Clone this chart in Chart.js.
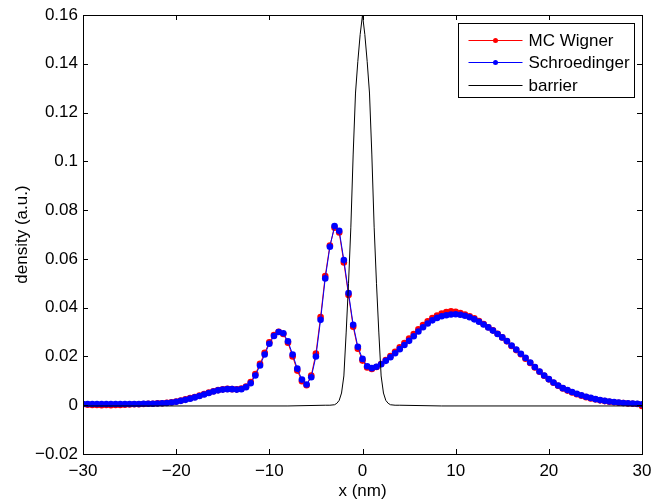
<!DOCTYPE html>
<html>
<head>
<meta charset="utf-8">
<title>density</title>
<script src="https://cdn.jsdelivr.net/npm/chart.js@4.4.0/dist/chart.umd.min.js"></script>
<style>
  html, body { margin: 0; padding: 0; background: #ffffff; }
  #grafico { display: block; }
</style>
</head>
<body>
<canvas id="grafico" width="653" height="502"></canvas>
<script>
// --- Dados (grade x de -30 a 30 nm, passo 0.5) ---
const xStart = -30;
const xStep = 0.5;

const wignerValues = [
  0.0004, 0.0002, 0.0001, 0.0001, 0.0000, 0.0001, 0.0000, 0.0001, 0.0001, 0.0002,
  0.0003, 0.0004, 0.0004, 0.0005, 0.0006, 0.0006, 0.0008, 0.0008, 0.0010, 0.0012,
  0.0015, 0.0019, 0.0024, 0.0029, 0.0034, 0.0040, 0.0046, 0.0052, 0.0057, 0.0062,
  0.0065, 0.0067, 0.0066, 0.0065, 0.0068, 0.0077, 0.0095, 0.0128, 0.0170, 0.0215,
  0.0258, 0.0288, 0.0301, 0.0292, 0.0256, 0.0200, 0.0142, 0.0098, 0.0082, 0.0122,
  0.0212, 0.0362, 0.0530, 0.0655, 0.0728, 0.0708, 0.0585, 0.0452, 0.0322, 0.0232,
  0.0183, 0.0155, 0.0149, 0.0157, 0.0169, 0.0185, 0.0202, 0.0219, 0.0237, 0.0255,
  0.0273, 0.0292, 0.0311, 0.0329, 0.0344, 0.0357, 0.0368, 0.0376, 0.0382, 0.0385,
  0.0383, 0.0378, 0.0372, 0.0365, 0.0356, 0.0345, 0.0333, 0.0320, 0.0307, 0.0293,
  0.0278, 0.0262, 0.0243, 0.0226, 0.0209, 0.0191, 0.0173, 0.0155, 0.0137, 0.0121,
  0.0106, 0.0092, 0.0080, 0.0069, 0.0060, 0.0052, 0.0045, 0.0039, 0.0033, 0.0028,
  0.0024, 0.0020, 0.0017, 0.0014, 0.0012, 0.0010, 0.0009, 0.0007, 0.0006, 0.0005,
  -0.0003
];

const schroedingerValues = [
  0.0005, 0.0005, 0.0005, 0.0005, 0.0005, 0.0005, 0.0005, 0.0005, 0.0005, 0.0005,
  0.0005, 0.0005, 0.0005, 0.0006, 0.0006, 0.0006, 0.0007, 0.0008, 0.0009, 0.0011,
  0.0014, 0.0018, 0.0022, 0.0027, 0.0032, 0.0038, 0.0044, 0.0050, 0.0056, 0.0061,
  0.0064, 0.0066, 0.0066, 0.0064, 0.0066, 0.0074, 0.0090, 0.0122, 0.0163, 0.0208,
  0.0252, 0.0284, 0.0300, 0.0295, 0.0262, 0.0208, 0.0150, 0.0105, 0.0085, 0.0115,
  0.0200, 0.0350, 0.0520, 0.0650, 0.0735, 0.0715, 0.0595, 0.0460, 0.0330, 0.0240,
  0.0190, 0.0160, 0.0152, 0.0158, 0.0168, 0.0182, 0.0197, 0.0213, 0.0230, 0.0247,
  0.0264, 0.0283, 0.0302, 0.0320, 0.0335, 0.0348, 0.0358, 0.0365, 0.0369, 0.0372,
  0.0373, 0.0371, 0.0367, 0.0361, 0.0352, 0.0342, 0.0331, 0.0319, 0.0306, 0.0292,
  0.0278, 0.0263, 0.0245, 0.0228, 0.0211, 0.0194, 0.0175, 0.0157, 0.0138, 0.0122,
  0.0107, 0.0093, 0.0081, 0.0070, 0.0062, 0.0054, 0.0047, 0.0041, 0.0035, 0.0030,
  0.0025, 0.0021, 0.0018, 0.0015, 0.0013, 0.0011, 0.0009, 0.0008, 0.0007, 0.0006,
  0.0004
];

// Barreira: pontos próprios (mais densos perto do pico)
const barrierX = [
  -30, -8, -4, -3.5, -3, -2.75, -2.5, -2.25, -2, -1.75, -1.5, -1.25, -1, -0.75, -0.5, -0.25,
  0, 0.25, 0.5, 0.75, 1, 1.25, 1.5, 1.75, 2, 2.25, 2.5, 2.75, 3, 3.5, 4, 8.5, 30
];
const barrierValues = [
  -0.0003, -0.0003, 0, 0, 0.0002, 0.0008, 0.002, 0.005, 0.012, 0.030, 0.050, 0.073, 0.103, 0.128, 0.141, 0.152,
  0.160, 0.152, 0.141, 0.128, 0.103, 0.073, 0.050, 0.030, 0.012, 0.005, 0.002, 0.0008, 0.0002, 0, 0, -0.0003, -0.0003
];

const seriesLabels = ["MC Wigner", "Schroedinger", "barrier"];
const xTicks = [-30, -20, -10, 0, 10, 20, 30];
const yTicks = [-0.02, 0, 0.02, 0.04, 0.06, 0.08, 0.1, 0.12, 0.14, 0.16];

const fonte = { family: "'Liberation Sans', Arial, Helvetica, sans-serif", size: 17 };

// formata números no estilo MATLAB (sinal de menos longo)
function formatarTick(v) {
  const s = String(Number(v.toFixed(4)));
  return s.replace("-", "\u2212");
}

function pontosGrade(valores) {
  return valores.map((y, i) => ({ x: xStart + i * xStep, y: y }));
}

// --- Plugin: moldura completa com ticks para dentro ---
const molduraPlugin = {
  id: "moldura",
  afterDatasetsDraw(chart) {
    const { ctx, chartArea: a, scales } = chart;
    const tam = 5;
    ctx.save();
    ctx.strokeStyle = "#000000";
    ctx.lineWidth = 1;
    ctx.beginPath();
    xTicks.forEach((v) => {
      const px = Math.round(scales.x.getPixelForValue(v)) + 0.5;
      ctx.moveTo(px, a.bottom);
      ctx.lineTo(px, a.bottom - tam);
      ctx.moveTo(px, a.top);
      ctx.lineTo(px, a.top + tam);
    });
    yTicks.forEach((v) => {
      const py = Math.round(scales.y.getPixelForValue(v)) + 0.5;
      ctx.moveTo(a.left, py);
      ctx.lineTo(a.left + tam, py);
      ctx.moveTo(a.right, py);
      ctx.lineTo(a.right - tam, py);
    });
    ctx.stroke();
    ctx.strokeRect(
      Math.round(a.left) + 0.5,
      Math.round(a.top) + 0.5,
      Math.round(a.right - a.left),
      Math.round(a.bottom - a.top)
    );
    ctx.restore();
  },
};

// --- Plugin: legenda dentro da área do gráfico (canto superior direito) ---
const legendaPlugin = {
  id: "legendaInterna",
  afterDraw(chart) {
    const { ctx, chartArea: a } = chart;
    const boxW = 176;
    const boxH = 74;
    const bx = Math.round(a.right - 8 - boxW) + 0.5;
    const by = Math.round(a.top + 8) + 0.5;

    ctx.save();
    ctx.fillStyle = "#ffffff";
    ctx.fillRect(bx, by, boxW, boxH);
    ctx.strokeStyle = "#000000";
    ctx.lineWidth = 1;
    ctx.strokeRect(bx, by, boxW, boxH);

    ctx.font = fonte.size + "px " + fonte.family;
    ctx.textBaseline = "middle";
    ctx.textAlign = "left";

    chart.data.datasets.forEach((ds, i) => {
      const cy = Math.round(by + 16 + i * 22.5) + 0.5;
      ctx.strokeStyle = ds.borderColor;
      ctx.beginPath();
      ctx.moveTo(bx + 10, cy);
      ctx.lineTo(bx + 64, cy);
      ctx.stroke();
      if (ds.pointRadius > 0) {
        ctx.fillStyle = ds.backgroundColor;
        ctx.beginPath();
        ctx.arc(bx + 37, cy, 2.5, 0, Math.PI * 2);
        ctx.fill();
      }
      ctx.fillStyle = "#000000";
      ctx.fillText(ds.label, bx + 70, cy + 1);
    });
    ctx.restore();
  },
};

document.addEventListener("DOMContentLoaded", function () {
  const ctxGrafico = document.getElementById("grafico");
  if (!ctxGrafico) {
    console.error("Elemento canvas 'grafico' não encontrado.");
    return;
  }

  new Chart(ctxGrafico.getContext("2d"), {
    type: "line",
    data: {
      datasets: [
        {
          label: seriesLabels[0],
          data: pontosGrade(wignerValues),
          borderColor: "#ff0000",
          backgroundColor: "#ff0000",
          borderWidth: 1,
          pointRadius: 3.3,
          pointBorderWidth: 0,
          tension: 0,
          order: 3,
        },
        {
          label: seriesLabels[1],
          data: pontosGrade(schroedingerValues),
          borderColor: "#0000ff",
          backgroundColor: "#0000ff",
          borderWidth: 1,
          pointRadius: 3.3,
          pointBorderWidth: 0,
          tension: 0,
          order: 2,
        },
        {
          label: seriesLabels[2],
          data: barrierX.map((x, i) => ({ x: x, y: barrierValues[i] })),
          borderColor: "#000000",
          backgroundColor: "#000000",
          borderWidth: 1,
          pointRadius: 0,
          tension: 0,
          order: 1,
        },
      ],
    },
    options: {
      responsive: false,
      animation: false,
      devicePixelRatio: 1,
      layout: { padding: { top: 15, right: 11, left: 0, bottom: 0 } },
      plugins: {
        legend: { display: false },
        tooltip: { enabled: false },
      },
      scales: {
        x: {
          type: "linear",
          min: -30,
          max: 30,
          afterBuildTicks: (scale) => {
            scale.ticks = xTicks.map((v) => ({ value: v }));
          },
          afterFit: (scale) => {
            scale.height = 48;
            // a margem lateral fica só com o padding do layout
            scale.paddingLeft = 0;
            scale.paddingRight = 0;
          },
          grid: { display: false, drawTicks: false },
          border: { display: false },
          ticks: {
            color: "#000000",
            font: fonte,
            padding: 7,
            maxRotation: 0,
            callback: (v) => formatarTick(v),
          },
          title: {
            display: true,
            text: "x (nm)",
            color: "#000000",
            font: fonte,
            padding: { top: 2, bottom: 0 },
          },
        },
        y: {
          type: "linear",
          min: -0.02,
          max: 0.16,
          afterBuildTicks: (scale) => {
            scale.ticks = yTicks.map((v) => ({ value: v }));
          },
          afterFit: (scale) => {
            scale.width = 83;
            scale.paddingTop = 0;
            scale.paddingBottom = 0;
          },
          grid: { display: false, drawTicks: false },
          border: { display: false },
          ticks: {
            color: "#000000",
            font: fonte,
            padding: 5,
            callback: (v) => formatarTick(v),
          },
          title: {
            display: true,
            text: "density (a.u.)",
            color: "#000000",
            font: fonte,
            padding: { top: 12, bottom: 0 },
          },
        },
      },
    },
    plugins: [molduraPlugin, legendaPlugin],
  });
});
</script>
</body>
</html>
